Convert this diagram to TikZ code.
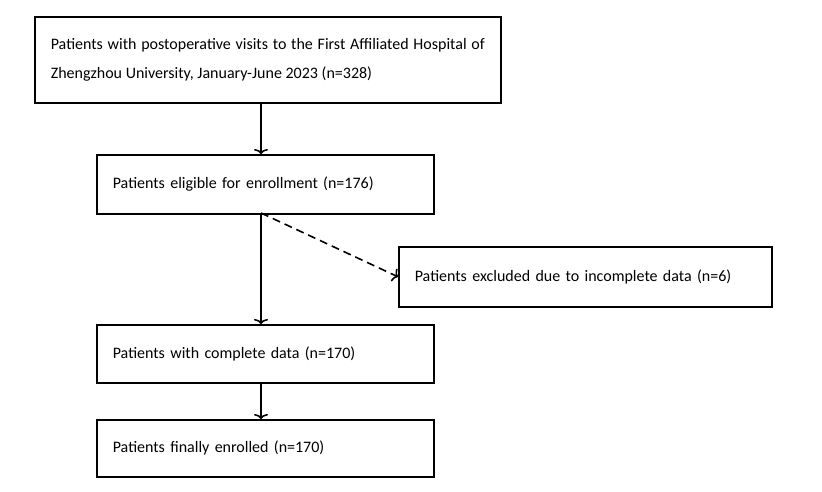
\documentclass[tikz,border=0pt]{standalone}
\usepackage{fontspec}
\setmainfont{Carlito}
\usetikzlibrary{arrows.meta,calc}
\tikzstyle{line} = [draw, line width=1.6pt, -{To[length=5pt,width=14pt]}]
\tikzstyle{block} = [draw, line width=1.6pt, rectangle, anchor=north west, inner sep=0pt, font=\fontsize{16}{29}\selectfont]

\begin{document}
\begin{tikzpicture}[x=1pt, y=-1pt]
        \useasboundingbox (0,0) rectangle (822,491);
        \node[block, minimum width=466, minimum height=86, align=justify, text width=434] (origin) at (34,16) {Patients with postoperative visits to the First Affiliated Hospital of Zhengzhou University, January-June 2023 (n=328)};
        \node[block, minimum width=337, minimum height=59, text width=305, align=left] (eligible) at (96,154) {Patients eligible for enrollment (n=176)};
        \node[block, minimum width=373, minimum height=60, text width=341, align=left] (excluded) at (398,246) {Patients excluded due to incomplete data (n=6)};
        \node[block, minimum width=337, minimum height=58, text width=305, align=left] (complete) at (96,324) {Patients with complete data (n=170)};
        \node[block, minimum width=337, minimum height=57, text width=305, align=left] (final) at (96,419) {Patients finally enrolled (n=170)};
        \coordinate (split) at (261,213);
        \path[line] (origin.south -| split) -- (eligible.north -| split);
        \path[line] (split) -- (complete.north -| split);
        \path[line, dash pattern=on 8pt off 5pt] (split) -- (excluded.west);
        \path[line] (complete.south -| split) -- (final.north -| split);
    \end{tikzpicture}
\end{document}
